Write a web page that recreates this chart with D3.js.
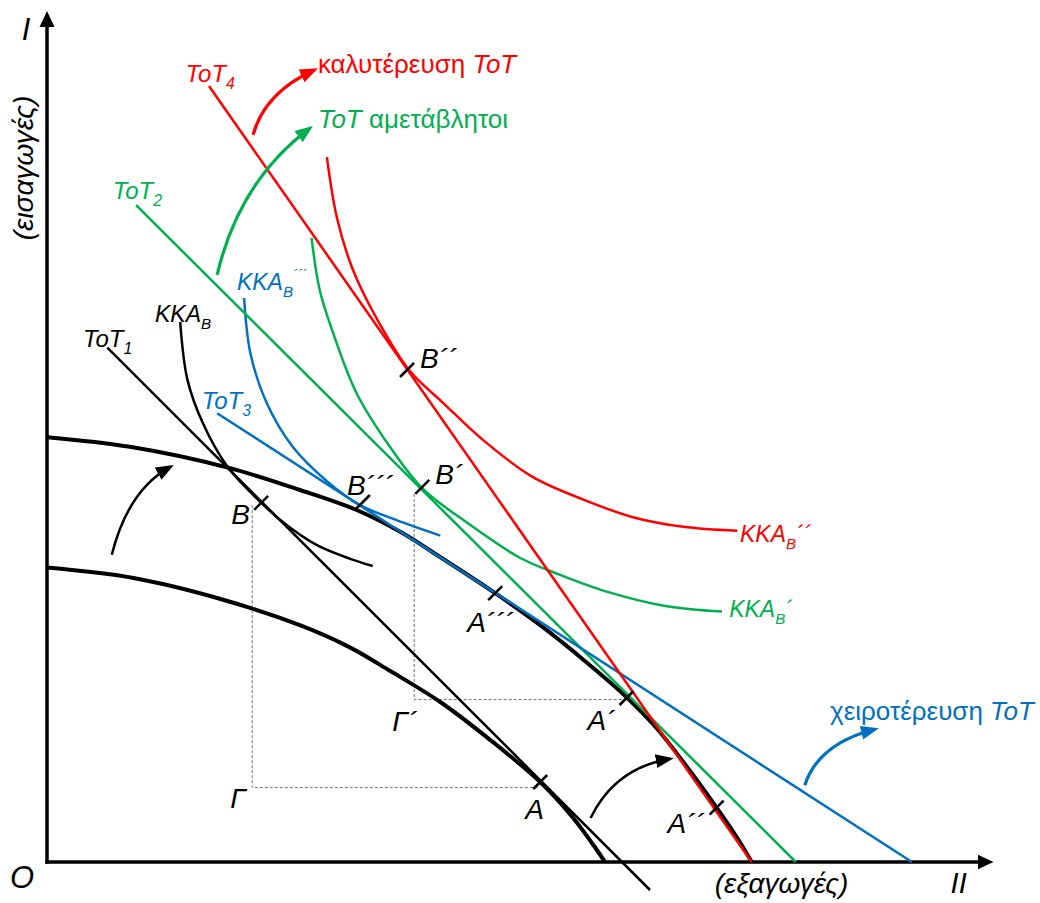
<!DOCTYPE html>
<html>
<head>
<meta charset="utf-8">
<script src="https://cdn.jsdelivr.net/npm/d3@7"></script>
<style>
  html, body { margin: 0; padding: 0; background: #fff; }
  svg { display: block; font-family: "Liberation Sans", Arial, sans-serif; }
  text { white-space: pre; }
</style>
</head>
<body>
<div id="chart"></div>
<script>
const width = 1040;
const height = 903;

const colBlack = '#000000', colRed = '#ff0000', colGreen = '#00b050', colBlue = '#0070c0';

// production possibility curves, chart units (x = exports, y = imports)
const outerPPF = [[0, 53.1], [9.2, 51.9], [20.1, 49.3], [28.1, 46.5], [34.4, 44], [39.2, 41.3], [43.7, 38.1],
                  [49.8, 33.6], [54.8, 29.6], [59.8, 25.1], [64.4, 20.6], [67.6, 16.9], [70.7, 12.5],
                  [74.4, 6.8], [76.7, 3], [78.3, 0]];
const innerPPF = [[0, 36.8], [9.6, 35.5], [18.9, 33], [28.1, 29.6], [33.7, 26.8], [38.1, 23.9], [43.7, 20],
                  [49.2, 15.3], [54.8, 10], [58.4, 5.6], [61.1, 1.5], [62, 0]];

// indifference curves
const kkaB   = [[14.8, 67.5], [15.6, 60.3], [17.3, 54.9], [20, 49.5], [22.9, 45.9], [26.2, 42.5], [30, 39.6],
                [33.7, 37.9], [36.2, 37]];
const kkaB1  = [[29.4, 78], [30.3, 71.5], [31.8, 66.1], [34.4, 58.6], [38.1, 51.9], [41.8, 46.6], [46.7, 42.4],
                [52.6, 38], [57, 35.9], [62.2, 33.8], [68.7, 32], [75, 31.3]];
const kkaB2  = [[31.1, 88.1], [32.2, 80.6], [34, 74], [36.7, 67.8], [40.3, 61.4], [44, 57.4], [48.4, 52.8],
                [54, 48.1], [59.6, 45.3], [65.1, 43.1], [70.7, 41.9], [76.7, 41.4]];
const kkaB3  = [[21.9, 70.5], [22.6, 63.6], [24.4, 57.4], [27.3, 51.9], [31.1, 47.6], [34.8, 44.6], [38.7, 42.8],
                [43.7, 40.8]];

// terms of trade lines
const tot1 = [[6.7, 64.3], [67, -3.5]];
const tot2 = [[9.9, 82.1], [83.2, 0]];
const tot3 = [[18.9, 56.1], [96.1, 0]];
const tot4 = [[18, 97], [78.3, 0]];

// marked points
const pointNames  = ['B', 'B´´', 'B´´´', 'B´', 'A´´´', 'A´', 'A', 'A´´'];
const pointValues = [[23.8, 44.9], [40, 61.5], [35.1, 45], [41.7, 46.9], [49.8, 33.6], [64.4, 20.5], [54.8, 10], [74.4, 6.8]];

// dotted guides B -> Γ -> A and B´ -> Γ´ -> A´
const guideNames = ['Γ', 'Γ´'];
const guides = [[[22.8, 44.6], [22.8, 9.3], [54.8, 9.3]],
                [[40.8, 46.0], [40.8, 20.3], [64.4, 20.3]]];

// curved arrows: start, bend, end
const arrows = [[[7.2, 38.4], [9, 46.5], [13.7, 49.4]],
                [[60.4, 5.5], [63.1, 11.75], [69.2, 12.9]],
                [[18.9, 73.4], [21.4, 85.2], [29.2, 91.7]],
                [[22.9, 90.9], [24.2, 96.2], [29.7, 99]],
                [[84.2, 9.6], [85.7, 14.8], [92, 16.6]]];
const arrowColors = [colBlack, colBlack, colGreen, colRed, colBlue];

const xMax = 103.5, yMax = 104.5;
const originX = 47, originY = 862;

const x = d3.scaleLinear().domain([0, xMax]).range([originX, originX + 9 * xMax]);
const y = d3.scaleLinear().domain([0, yMax]).range([originY, originY - 8 * yMax]);

const svg = d3.select('#chart')
              .append('svg')
              .attr('width', width)
              .attr('height', height)
              .attr('viewBox', [0, 0, width, height]);

const defs = svg.append('defs');
defs.append('marker')
    .attr('id', 'axisHead')
    .attr('viewBox', '0 -8 16 16')
    .attr('refX', 1)
    .attr('refY', 0)
    .attr('markerWidth', 16)
    .attr('markerHeight', 16)
    .attr('markerUnits', 'userSpaceOnUse')
    .attr('orient', 'auto')
    .append('path')
    .attr('d', 'M0,-7.5L16,0L0,7.5Z')
    .attr('fill', colBlack);

const headId = c => 'head' + c.replace('#', '');
[colBlack, colGreen, colRed, colBlue].forEach(c => {
  defs.append('marker')
      .attr('id', headId(c))
      .attr('viewBox', '0 -8 18 16')
      .attr('refX', 14)
      .attr('refY', 0)
      .attr('markerWidth', 18)
      .attr('markerHeight', 16)
      .attr('markerUnits', 'userSpaceOnUse')
      .attr('orient', 'auto')
      .append('path')
      .attr('d', 'M0,-7L18,0L0,7Z')
      .attr('fill', c);
});

const line = d3.line().x(d => x(d[0])).y(d => y(d[1]));
const smooth = d3.line().x(d => x(d[0])).y(d => y(d[1])).curve(d3.curveCatmullRom.alpha(0.5));

// dotted guides
svg.append('g')
   .selectAll('path')
   .data(guides)
   .join('path')
   .attr('d', line)
   .attr('fill', 'none')
   .attr('stroke', '#707070')
   .attr('stroke-width', 1)
   .attr('stroke-dasharray', '3,2');

// axes
const axes = svg.append('g')
                .attr('fill', 'none')
                .attr('stroke', colBlack)
                .attr('stroke-width', 3.5)
                .attr('stroke-linecap', 'square');
axes.append('path').attr('d', line([[0, 0], [xMax, 0]])).attr('marker-end', 'url(#axisHead)');
axes.append('path').attr('d', line([[0, 0], [0, yMax]])).attr('marker-end', 'url(#axisHead)');

// curves
const curves = [
  {data: outerPPF, color: colBlack, w: 4},
  {data: innerPPF, color: colBlack, w: 4},
  {data: kkaB, color: colBlack, w: 2.5},
  {data: kkaB3, color: colBlue, w: 2.5},
  {data: kkaB1, color: colGreen, w: 2.5},
  {data: kkaB2, color: colRed, w: 2.5}
];
svg.append('g')
   .attr('fill', 'none')
   .selectAll('path')
   .data(curves)
   .join('path')
   .attr('d', d => smooth(d.data))
   .attr('stroke', d => d.color)
   .attr('stroke-width', d => d.w);

// terms of trade lines
const totLines = [
  {data: tot1, color: colBlack},
  {data: tot2, color: colGreen},
  {data: tot3, color: colBlue},
  {data: tot4, color: colRed}
];
svg.append('g')
   .attr('fill', 'none')
   .selectAll('path')
   .data(totLines)
   .join('path')
   .attr('d', d => line(d.data))
   .attr('stroke', d => d.color)
   .attr('stroke-width', 2.5);

// point ticks
svg.append('g')
   .selectAll('line')
   .data(pointValues)
   .join('line')
   .attr('x1', d => x(d[0]) - 7)
   .attr('y1', d => y(d[1]) + 7)
   .attr('x2', d => x(d[0]) + 7)
   .attr('y2', d => y(d[1]) - 7)
   .attr('stroke', colBlack)
   .attr('stroke-width', 2.5);

// arrows
svg.append('g')
   .attr('fill', 'none')
   .selectAll('path')
   .data(arrows)
   .join('path')
   .attr('d', d => {
     const p = d3.path();
     p.moveTo(x(d[0][0]), y(d[0][1]));
     p.quadraticCurveTo(x(d[1][0]), y(d[1][1]), x(d[2][0]), y(d[2][1]));
     return p.toString();
   })
   .attr('stroke', (d, i) => arrowColors[i])
   .attr('stroke-width', (d, i) => i < 2 ? 2.5 : 3.2)
   .attr('marker-end', (d, i) => `url(#${headId(arrowColors[i])})`);

// text helper: parts are [text, kind] with kind n (normal), i (italic), sub, sup
function writeParts(sel, parts, size) {
  let shift = 0;
  parts.forEach(([t, k]) => {
    let target = 0, fs = size;
    if (k === 'sub') { target = size * 0.3; fs = size * 0.66; }
    if (k === 'sup') { target = -size * 0.42; fs = size * 0.6; }
    sel.append('tspan')
       .text(t)
       .attr('font-style', k === 'n' ? 'normal' : 'italic')
       .attr('font-size', fs)
       .attr('dy', target - shift);
    shift = target;
  });
}

// point labels, offsets in pixels from each tick
const pointOffsets = [[-30, 21], [13, -2], [-16, -7], [13, -3], [-28, 39], [-39, 32], [-15, 37], [-49, 25]];
const labels = svg.append('g');
pointNames.forEach((name, i) => {
  const t = labels.append('text')
                  .attr('x', x(pointValues[i][0]) + pointOffsets[i][0])
                  .attr('y', y(pointValues[i][1]) + pointOffsets[i][1])
                  .attr('fill', colBlack);
  writeParts(t, [[name, 'i']], 28);
});

const guideOffsets = [[-22, 20], [-22, 31]];
guideNames.forEach((name, i) => {
  const c = guides[i][1];
  const t = labels.append('text')
                  .attr('x', x(c[0]) + guideOffsets[i][0])
                  .attr('y', y(c[1]) + guideOffsets[i][1])
                  .attr('fill', colBlack);
  writeParts(t, [[name, 'i']], 28);
});

const notes = [
  {at: [15.4, 97.5], color: colRed, size: 24, parts: [['ToT', 'i'], ['4', 'sub']]},
  {at: [30.1, 98.6], color: colRed, size: 26, parts: [['καλυτέρευση ', 'n'], ['ToT', 'i']]},
  {at: [30.1, 91.75], color: colGreen, size: 26, parts: [['ToT', 'i'], [' αμετάβλητοι', 'n']]},
  {at: [7.3, 82.9], color: colGreen, size: 24, parts: [['ToT', 'i'], ['2', 'sub']]},
  {at: [21.1, 71.5], color: colBlue, size: 23, parts: [['KKA', 'i'], ['B', 'sub'], ['´´´', 'sup']]},
  {at: [12, 67.5], color: colBlack, size: 23, parts: [['KKA', 'i'], ['B', 'sub']]},
  {at: [4, 64.4], color: colBlack, size: 24, parts: [['ToT', 'i'], ['1', 'sub']]},
  {at: [17.2, 56.6], color: colBlue, size: 24, parts: [['ToT', 'i'], ['3', 'sub']]},
  {at: [77, 40], color: colRed, size: 23, parts: [['KKA', 'i'], ['B', 'sub'], ['´´', 'i']]},
  {at: [75.8, 30.6], color: colGreen, size: 23, parts: [['KKA', 'i'], ['B', 'sub'], ['´', 'i']]},
  {at: [87, 17.75], color: colBlue, size: 26, parts: [['χειροτέρευση ', 'n'], ['ToT', 'i']]},
  {at: [-2.8, 102.75], color: colBlack, size: 31, parts: [['I', 'i']]},
  {at: [-4.1, -3.25], color: colBlack, size: 31, parts: [['O', 'i']]},
  {at: [100.4, -3.9], color: colBlack, size: 29, parts: [['II', 'i']]},
  {at: [74.2, -3.9], color: colBlack, size: 28, parts: [['(εξαγωγές)', 'i']]}
];
notes.forEach(n => {
  const t = labels.append('text')
                  .attr('x', x(n.at[0]))
                  .attr('y', y(n.at[1]))
                  .attr('fill', n.color);
  writeParts(t, n.parts, n.size);
});

const yTitle = labels.append('text')
                     .attr('transform', `translate(${x(-1.6)},${y(86.75)}) rotate(-90)`)
                     .attr('text-anchor', 'middle')
                     .attr('fill', colBlack);
writeParts(yTitle, [['(εισαγωγές)', 'i']], 28);
</script>
</body>
</html>
